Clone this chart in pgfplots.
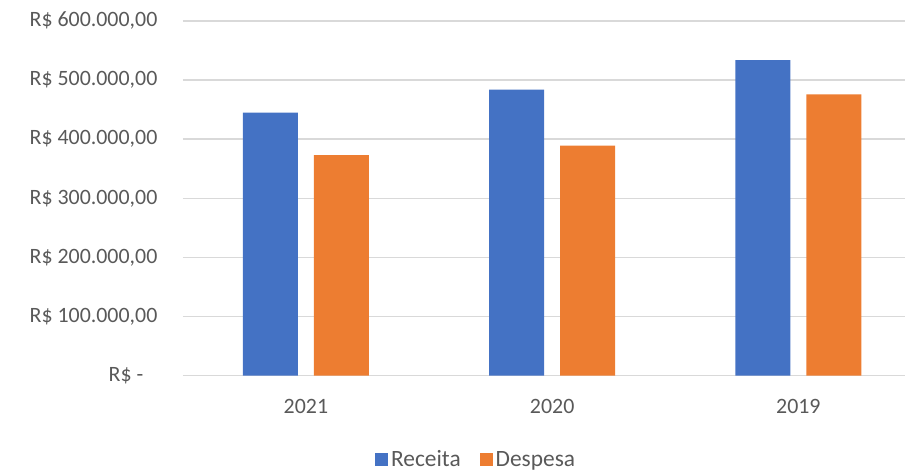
\documentclass[border=0pt]{standalone}
\usepackage{pgfplots}
\pgfplotsset{compat=1.18}
\usepackage{fontspec}
\setmainfont{Carlito}
\definecolor{receita}{HTML}{4472C4}
\definecolor{despesa}{HTML}{ED7D31}
\definecolor{texto}{HTML}{595959}
\definecolor{grade}{HTML}{D9D9D9}

\begin{document}
\begin{tikzpicture}
\path (0bp,0bp) rectangle (906bp,470bp);
\begin{axis}[
  at={(183bp,94bp)}, anchor=south west,
  scale only axis, width=723bp, height=355bp,
  ybar=16bp, bar width=55bp,
  xmin=-0.5, xmax=2.434, ymin=0, ymax=600000,
  scaled y ticks=false,
  xtick={0,1,2}, xticklabels={2021,2020,2019},
  ytick={0,100000,200000,300000,400000,500000,600000},
  yticklabels={{R\$ -\rule{14bp}{0pt}},{R\$ 100.000,00},{R\$ 200.000,00},{R\$ 300.000,00},{R\$ 400.000,00},{R\$ 500.000,00},{R\$ 600.000,00}},
  axis line style={draw=none}, tick style={draw=none},
  ymajorgrids, major grid style={grade, line width=1.6bp},
  every tick label/.append style={font=\fontsize{22}{26}\selectfont, text=texto},
  yticklabel style={xshift=-22bp},
  xticklabel style={yshift=-16bp},
  legend style={at={(rel axis cs:0.406,-0.2366)}, anchor=center, draw=none, fill=none,
    font=\fontsize{23.5}{27}\selectfont, text=texto, legend columns=2,
    /tikz/every odd column/.append style={column sep=1bp},
    /tikz/every even column/.append style={column sep=17bp}},
  legend cell align=left,
]
\addplot[draw=none, fill=receita, legend image code/.code={\fill[receita] (0bp,-6.5bp) rectangle (13bp,6.5bp);}]
  coordinates {(0,445000) (1,484000) (2,534000)};
\addplot[draw=none, fill=despesa, legend image code/.code={\fill[despesa] (0bp,-6.5bp) rectangle (13bp,6.5bp);}]
  coordinates {(0,373000) (1,389000) (2,476000)};
\legend{Receita, Despesa}
\end{axis}
\end{tikzpicture}
\end{document}
